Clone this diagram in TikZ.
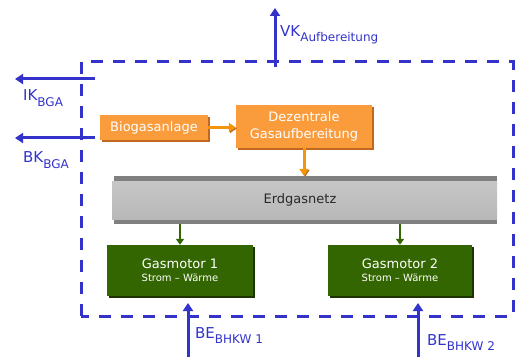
\documentclass[tikz,border=0pt]{standalone}
\usepackage{fontspec}
\setmainfont{DejaVu Sans}
\usetikzlibrary{arrows.meta, positioning, shadows}

\definecolor{kblue}{RGB}{51,51,204}
\definecolor{borange}{RGB}{250,155,60}
\definecolor{borangedark}{RGB}{190,105,30}
\definecolor{harrow}{RGB}{245,150,10}
\definecolor{mgreen}{RGB}{51,102,0}
\definecolor{mgreendark}{RGB}{28,52,0}
\definecolor{pipeedge}{RGB}{128,128,128}
\definecolor{netztext}{RGB}{40,40,40}

\newcommand{\ksub}[1]{\raisebox{-5pt}{\fontsize{12}{12}\selectfont #1}}

\begin{document}
\begin{tikzpicture}[x=1pt, y=1pt,
  obox/.style  = {fill=borange, text=white, inner sep=0pt, align=center,
                  font=\fontsize{13}{17}\selectfont,
                  general shadow={fill=borangedark, shadow xshift=2pt, shadow yshift=-2pt}},
  gbox/.style  = {fill=mgreen, text=white, inner sep=0pt, align=center,
                  minimum width=146pt, minimum height=51pt,
                  font=\fontsize{13}{13}\selectfont,
                  general shadow={fill=mgreendark, shadow xshift=2pt, shadow yshift=-2pt}},
  pipe/.style  = {minimum width=385pt, minimum height=48pt, inner sep=0pt,
                  text=netztext, font=\fontsize{13}{13}\selectfont,
                  path picture={
                    \fill[pipeedge] ([xshift=2pt]path picture bounding box.south west)
                      rectangle (path picture bounding box.north east);
                    \shade[top color=black!22, middle color=black!10, bottom color=black!28]
                      ([yshift=5pt]path picture bounding box.south west)
                      rectangle ([yshift=-5pt]path picture bounding box.north east);
                  }},
  frame/.style = {draw=kblue, line width=3pt, dash pattern=on 12pt off 10pt},
  karr/.style  = {-{Triangle[length=8pt,width=10pt]}, line width=3pt, kblue},
  oarr/.style  = {-{Triangle[length=7pt,width=9pt]}, line width=3pt, harrow,
                  preaction={draw=borangedark, transform canvas={xshift=1pt,yshift=-1pt}}},
  garr/.style  = {-{Triangle[length=6pt,width=8pt]}, line width=2.5pt, mgreen},
  klbl/.style  = {text=kblue, inner sep=0pt, anchor=base west,
                  font=\fontsize{15}{15}\selectfont}
]
\useasboundingbox (0,0) rectangle (515,357);

% system boundary
\draw[frame] (81,41) rectangle (513,295);

% plant chain
\node[obox, minimum width=108pt, minimum height=25pt] (bio) at (154,229.5) {Biogasanlage};
\node[obox, minimum width=136pt, minimum height=43pt] (dez) at (304,230.5) {Dezentrale\\Gasaufbereitung};
\node[pipe] (netz) at (304.5,157) {\hspace*{-9pt}Erdgasnetz};
\node[gbox] (gm1) at (180,86.5) {Gasmotor 1\\{\fontsize{10}{12}\selectfont Strom -- Wärme}};
\node[gbox, minimum width=144pt] (gm2) at (400,86.5) {Gasmotor 2\\{\fontsize{10}{12}\selectfont Strom -- Wärme}};

\draw[oarr] (bio.east) -- (bio.east -| dez.west);
\draw[oarr] (dez.south) -- (dez.south |- netz.north);
\draw[garr] (netz.south -| gm1.north) -- (gm1.north);
\draw[garr] (netz.south -| gm2.north) -- (gm2.north);

% cost and revenue flows
\coordinate (ikfrom)  at (95,278);
\coordinate (ikto)    at (15,278);
\coordinate (bkfrom)  at (95,219);
\coordinate (bkto)    at (15,219);
\coordinate (vkfrom)  at (275,290);
\coordinate (vkto)    at (275,349);
\coordinate (be1from) at (188,0);
\coordinate (be1to)   at (188,54);
\coordinate (be2from) at (418,0);
\coordinate (be2to)   at (418,54);

\draw[karr] (ikfrom) -- (ikto);
\draw[karr] (bkfrom) -- (bkto);
\draw[karr] (vkfrom) -- (vkto);
\draw[karr] (be1from) -- (be1to);
\draw[karr] (be2from) -- (be2to);

\node[klbl] (ik)  at (23,256)  {IK\ksub{BGA}};
\node[klbl] (bk)  at (23,194)  {BK\ksub{BGA}};
\node[klbl] (vk)  at (280,320) {VK\ksub{Aufbereitung}};
\node[klbl] (be1) at (195,19)  {BE\ksub{BHKW 1}};
\node[klbl] (be2) at (427,12)  {BE\ksub{BHKW 2}};
\end{tikzpicture}
\end{document}
